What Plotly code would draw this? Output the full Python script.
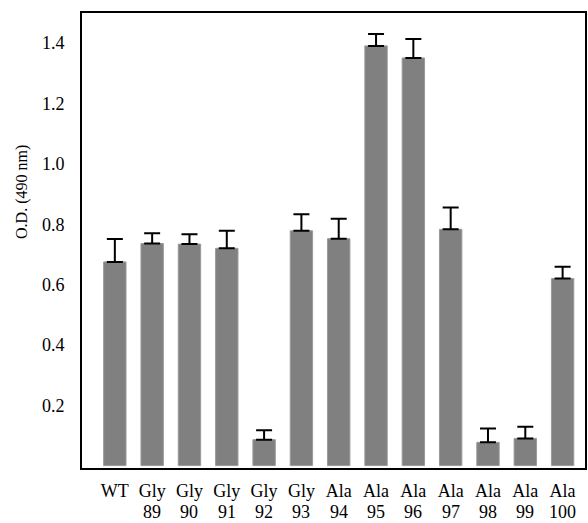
import plotly.graph_objects as go

prefixes = ["WT", "Gly", "Gly", "Gly", "Gly", "Gly", "Ala", "Ala", "Ala", "Ala", "Ala", "Ala", "Ala"]
numbers = ["", "89", "90", "91", "92", "93", "94", "95", "96", "97", "98", "99", "100"]
categories = [(p + " " + n).strip() for p, n in zip(prefixes, numbers)]
values = [0.675, 0.736, 0.734, 0.720, 0.086, 0.778, 0.752, 1.391, 1.351, 0.783, 0.077, 0.090, 0.620]
errors = [0.076, 0.034, 0.033, 0.058, 0.031, 0.055, 0.066, 0.039, 0.063, 0.072, 0.046, 0.039, 0.039]
ytick_vals = [0.2, 0.4, 0.6, 0.8, 1.0, 1.2, 1.4]
ytick_text = ["0.2", "0.4", "0.6", "0.8", "1.0", "1.2", "1.4"]

font_family = "Liberation Serif"

fig = go.Figure()
fig.add_trace(go.Bar(
    x=categories, y=values, width=0.6,
    marker=dict(color="#808080", line=dict(color="#9a9a9a", width=1)),
    error_y=dict(type="data", array=errors, arrayminus=[0] * len(errors), symmetric=False,
                 color="black", thickness=2, width=8),
))

annotations = [dict(text="O.D. (490 nm)", xref="paper", yref="paper",
                    x=-0.119, y=0.607, textangle=-90, showarrow=False,
                    xanchor="center", yanchor="middle",
                    font=dict(size=16, family=font_family, color="black"))]
for c, n in zip(categories, numbers):
    if n:
        annotations.append(dict(text=n, xref="x", yref="paper", x=c, y=0,
                                yanchor="top", xanchor="center", yshift=-33,
                                showarrow=False, borderpad=0,
                                font=dict(size=18, family=font_family, color="black")))

fig.update_layout(
    width=588, height=523,
    margin=dict(l=82, r=1, t=13, b=55),
    plot_bgcolor="white", paper_bgcolor="white",
    showlegend=False,
    font=dict(family=font_family, color="black"),
    xaxis=dict(type="category", range=[-0.88, 12.6], showline=True, mirror=True,
               linecolor="black", linewidth=2, showgrid=False, ticks="",
               tickmode="array", tickvals=categories, ticktext=prefixes,
               tickfont=dict(size=18, family=font_family, color="black"),
               ticklabelstandoff=5, tickangle=0),
    yaxis=dict(range=[-0.008, 1.5], showline=True, mirror=True, linecolor="black",
               linewidth=2, showgrid=False, zeroline=False, ticks="",
               tickvals=ytick_vals, ticktext=ytick_text,
               tickfont=dict(size=18, family=font_family, color="black"),
               ticklabelstandoff=12),
    annotations=annotations,
)

fig.write_html("out.html")
